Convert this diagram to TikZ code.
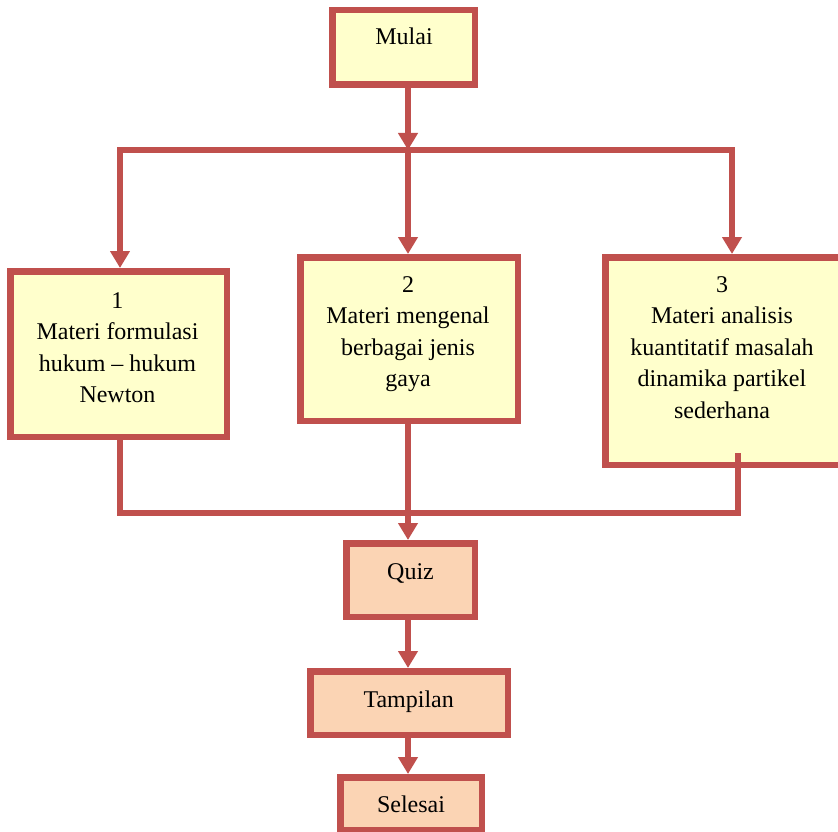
\documentclass[tikz,border=0pt]{standalone}
\usepackage{fontspec}
\setmainfont{Liberation Serif}
\usetikzlibrary{arrows.meta}

\definecolor{frame}{HTML}{C0504D}
\definecolor{lemon}{HTML}{FFFFCC}
\definecolor{peach}{HTML}{FBD4B4}

\newcommand{\boxtext}[2]{\parbox[t]{#1}{\centering\fontsize{24}{31.5}\selectfont #2}}

\begin{document}
\begin{tikzpicture}[x=1pt,y=-1pt,
  stepbox/.style={draw=frame, line width=6.5pt, rectangle, inner sep=0pt},
  topicbox/.style={stepbox, fill=lemon},
  endbox/.style={stepbox, fill=peach},
  label/.style={inner sep=0pt, anchor=base, text=black},
  wire/.style={draw=frame, line width=5.5pt, line join=miter},
  flow/.style={wire, -{Triangle[width=19pt,length=17pt]}}
]
\useasboundingbox (0,0) rectangle (838,832);

% boxes
\node[topicbox, minimum width=142.5pt, minimum height=74.5pt] (mulai) at (403.5,47.5) {};
\node[topicbox, minimum width=216.5pt, minimum height=165.5pt] (b1) at (118.5,354) {};
\node[topicbox, minimum width=217.5pt, minimum height=163.5pt] (b2) at (409,339) {};
\node[topicbox, minimum width=240pt, minimum height=207.5pt] (b3) at (725.5,361) {};
\node[endbox, minimum width=128.5pt, minimum height=73.5pt] (quiz) at (410.5,580) {};
\node[endbox, minimum width=197.5pt, minimum height=63.5pt] (tampil) at (409,703) {};
\node[endbox, minimum width=141.5pt, minimum height=52.5pt] (selesai) at (411,803.5) {};

% texts
\node[label] (tmulai) at (404,45) {\boxtext{140pt}{Mulai}};
\node[label] (tb1) at (117.5,308) {\boxtext{205pt}{1\\Materi formulasi\\hukum – hukum\\Newton}};
\node[label] (tb2) at (408,292) {\boxtext{205pt}{2\\Materi mengenal\\berbagai jenis\\gaya}};
\node[label] (tb3) at (722,292) {\boxtext{225pt}{3\\Materi analisis\\kuantitatif masalah\\dinamika partikel\\sederhana}};
\node[label] (tquiz) at (410.5,579) {\boxtext{120pt}{Quiz}};
\node[label] (ttampil) at (408.7,707) {\boxtext{190pt}{Tampilan}};
\node[label] (tselesai) at (411,812) {\boxtext{135pt}{Selesai}};

% junction points
\coordinate (jt) at (408,150);
\coordinate (jl) at (120,150);
\coordinate (jr) at (732,150);
\coordinate (bl) at (120,513);
\coordinate (br) at (738,513);
\coordinate (r3) at (738,453);

% connectors
\draw[flow] (mulai.south -| jt) -- (jt);
\draw[flow] (jt) -- (jl) -- (b1.north -| jl);
\draw[flow] (jt) -- (jr) -- (b3.north -| jr);
\draw[flow] (jt) -- (b2.north -| jt);
\draw[wire] (b1.south -| bl) -- (bl) -- (br) -- (r3);
\draw[flow] (b2.south -| jt) -- (quiz.north -| jt);
\draw[flow] (quiz.south -| jt) -- (tampil.north -| jt);
\draw[flow] (tampil.south -| jt) -- (selesai.north -| jt);
\end{tikzpicture}
\end{document}
